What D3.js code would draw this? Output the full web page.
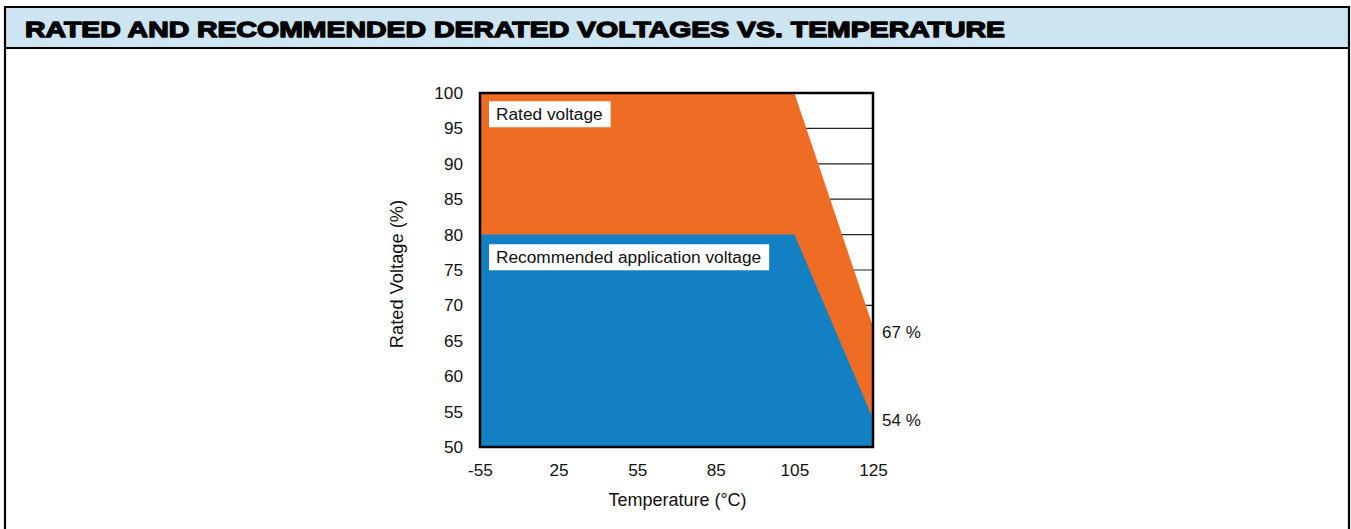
<!DOCTYPE html>
<html>
<head>
<meta charset="utf-8">
<script src="https://cdn.jsdelivr.net/npm/d3@7"></script>
<style>
	html, body { margin: 0; padding: 0; background: #fff; }
	svg { display: block; font-family: 'Liberation Sans', Arial, sans-serif; }
</style>
</head>
<body>
<svg id="derating-chart"></svg>
<script>
var temperatures = ['-55', '25', '55', '85', '105', '125'];
var ratedVoltage = [100, 100, 100, 100, 100, 67];
var recommendedVoltage = [80, 80, 80, 80, 80, 54];
var yTicks = [50, 55, 60, 65, 70, 75, 80, 85, 90, 95, 100];

var width = 1351,
    height = 529;

var plot = { left: 480, right: 873, top: 93, bottom: 447 };
var font = "'Liberation Sans', Arial, sans-serif";

var svg = d3.select('#derating-chart')
	.attr('width', width)
	.attr('height', height);

// frame + header band
svg.append('rect')
	.attr('x', 5)
	.attr('y', 7)
	.attr('width', 1344)
	.attr('height', 41)
	.attr('fill', '#cde4f1');

svg.append('path')
	.attr('d', 'M5,' + height + ' V7 H1349 V' + height + ' M5,48 H1349')
	.attr('fill', 'none')
	.attr('stroke', '#000')
	.attr('stroke-width', 2.2);

svg.append('text')
	.attr('x', 25)
	.attr('y', 37)
	.attr('textLength', 980)
	.attr('lengthAdjust', 'spacingAndGlyphs')
	.attr('font-size', 22)
	.attr('font-weight', 'bold')
	.attr('stroke', '#000')
	.attr('stroke-width', 1.3)
	.attr('stroke-linejoin', 'round')
	.text('RATED AND RECOMMENDED DERATED VOLTAGES VS. TEMPERATURE');

var x = d3.scalePoint()
	.domain(temperatures)
	.range([plot.left, plot.right]);

var y = d3.scaleLinear()
	.domain([50, 100])
	.range([plot.bottom, plot.top]);

var g = svg.append('g');

// grid lines sit behind the areas, so they only show in the empty corner
g.selectAll('.grid')
	.data(yTicks.slice(1, -1))
	.enter()
	.append('line')
	.attr('class', 'grid')
	.attr('x1', plot.left)
	.attr('x2', plot.right)
	.attr('y1', d => y(d))
	.attr('y2', d => y(d))
	.attr('stroke', '#222')
	.attr('stroke-width', 1.2);

var area = d3.area()
	.x(d => x(d.t))
	.y0(y(50))
	.y1(d => y(d.v));

g.append('path')
	.datum(temperatures.map((t, i) => ({ t: t, v: ratedVoltage[i] })))
	.attr('d', area)
	.attr('fill', '#ee6c24');

g.append('path')
	.datum(temperatures.map((t, i) => ({ t: t, v: recommendedVoltage[i] })))
	.attr('d', area)
	.attr('fill', '#1380c4');

g.append('rect')
	.attr('x', plot.left)
	.attr('y', plot.top)
	.attr('width', plot.right - plot.left)
	.attr('height', plot.bottom - plot.top)
	.attr('fill', 'none')
	.attr('stroke', '#000')
	.attr('stroke-width', 2.5);

// axes
var yAxis = d3.axisLeft(y)
	.tickValues(yTicks)
	.tickSize(0)
	.tickPadding(17);

var xAxis = d3.axisBottom(x)
	.tickSize(0)
	.tickPadding(17);

svg.append('g')
	.attr('transform', `translate(${plot.left},0)`)
	.call(yAxis)
	.call(s => s.select('.domain').remove())
	.selectAll('text')
	.attr('font-size', 17.2)
	.attr('font-family', font)
	.attr('fill', '#111');

svg.append('g')
	.attr('transform', `translate(0,${plot.bottom})`)
	.call(xAxis)
	.call(s => s.select('.domain').remove())
	.selectAll('text')
	.attr('font-size', 17.2)
	.attr('font-family', font)
	.attr('fill', '#111');

svg.append('text')
	.attr('transform', `translate(403,${(plot.top + plot.bottom) / 2 + 4}) rotate(-90)`)
	.attr('text-anchor', 'middle')
	.attr('font-size', 18.3)
	.attr('fill', '#111')
	.text('Rated Voltage (%)');

svg.append('text')
	.attr('x', (plot.left + plot.right) / 2 + 1)
	.attr('y', 506)
	.attr('text-anchor', 'middle')
	.attr('font-size', 18)
	.attr('fill', '#111')
	.text('Temperature (°C)');

// series labels in white boxes
var seriesLabels = [
	{ text: 'Rated voltage', v: 97 },
	{ text: 'Recommended application voltage', v: 76.8 }
];

seriesLabels.forEach(function(d) {
	var lg = svg.append('g')
		.attr('transform', `translate(${plot.left + 9},${y(d.v)})`);
	var t = lg.append('text')
		.attr('x', 7)
		.attr('dy', '0.35em')
		.attr('font-size', 17.3)
		.attr('fill', '#111')
		.text(d.text);
	var w = t.node().getComputedTextLength();
	lg.insert('rect', 'text')
		.attr('x', 0)
		.attr('y', -13)
		.attr('width', w + 15)
		.attr('height', 26)
		.attr('fill', '#fff');
});

// end value labels
var last = temperatures.length - 1;
[[ratedVoltage[last], 5], [recommendedVoltage[last], 1]].forEach(function(d) {
	svg.append('text')
		.attr('x', plot.right + 9)
		.attr('y', y(d[0]) + d[1])
		.attr('dy', '0.35em')
		.attr('font-size', 17)
		.attr('fill', '#111')
		.text(d[0] + ' %');
});
</script>
</body>
</html>
